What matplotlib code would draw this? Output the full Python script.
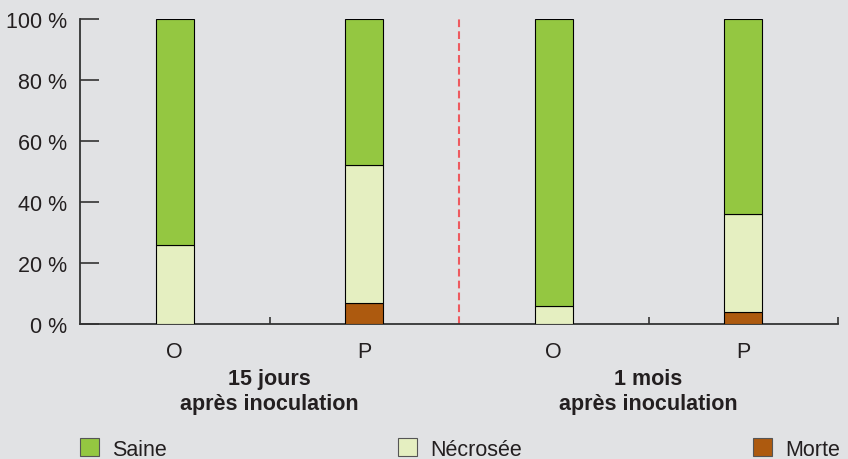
import matplotlib.pyplot as plt
from matplotlib.patches import Patch

plt.rcParams['font.family'] = ['Liberation Sans', 'DejaVu Sans']

# data (% of plants)
categories = ["O", "P", "O", "P"]
groups = ["15 jours\naprès inoculation", "1 mois\naprès inoculation"]
morte = [0, 7, 0, 4]
necrosee = [26, 45, 6, 32]
saine = [74, 48, 94, 64]
yticks = [0, 20, 40, 60, 80, 100]

bg = "#e1e2e4"
c_saine = "#94c741"
c_necro = "#e5efc1"
c_morte = "#ad5a0f"
ink = "#231f20"

fig = plt.figure(figsize=(8.48, 4.6), dpi=100, facecolor=bg)
ax = fig.add_axes([80 / 848, 1 - 325 / 460, 758 / 848, 305 / 460])
ax.set_facecolor(bg)

x = list(range(len(categories)))
w = 0.2
ax.bar(x, morte, w, color=c_morte, edgecolor="black", linewidth=0.8, zorder=3)
ax.bar(x, necrosee, w, bottom=morte, color=c_necro, edgecolor="black", linewidth=0.8, zorder=3)
bott = [m + n for m, n in zip(morte, necrosee)]
ax.bar(x, saine, w, bottom=bott, color=c_saine, edgecolor="black", linewidth=0.8, zorder=3)

# separation between the two dates
ax.axvline(1.5, color="#ee5a5f", lw=1.5, dashes=(3.7, 2), zorder=2)

ax.set_xlim(-0.5, 3.5)
ax.set_ylim(0, 100)
ax.set_yticks(yticks)
ax.set_yticklabels([f"{v} %" for v in yticks])
ax.set_xticks(x)
ax.set_xticklabels(categories)
ax.set_xticks([0.5, 1.5, 2.5, 3.5], minor=True)

ax.tick_params(axis="y", direction="in", length=14, width=1.2, color="#333333",
               labelsize=15.5, labelcolor=ink, pad=9)
ax.tick_params(axis="x", which="major", length=0, labelsize=15.5, labelcolor=ink, pad=12)
ax.tick_params(axis="x", which="minor", direction="in", length=5, width=1.2, color="#333333")

for s in ["top", "right"]:
    ax.spines[s].set_visible(False)
for s in ["left", "bottom"]:
    ax.spines[s].set_color("#333333")
    ax.spines[s].set_linewidth(1.3)

# group labels
for i, g in enumerate(groups):
    ax.text(2 * i + 0.5, -0.22, g, transform=ax.get_xaxis_transform(),
            ha="center", va="center", fontsize=15.5, fontweight="bold",
            color=ink, linespacing=1.3)

handles = [Patch(facecolor=c_saine, edgecolor="#555555", linewidth=0.8, label="Saine"),
           Patch(facecolor=c_necro, edgecolor="#555555", linewidth=0.8, label="Nécrosée"),
           Patch(facecolor=c_morte, edgecolor="#555555", linewidth=0.8, label="Morte")]
fig.legend(handles=handles, loc="center", ncol=3, mode="expand",
           bbox_to_anchor=(80 / 848, 1 - 450 / 460 - 0.02, 760 / 848, 0.04),
           frameon=False, fontsize=15.5, handlelength=0.9, handleheight=0.9,
           handletextpad=0.6, borderpad=0, borderaxespad=0, labelcolor=ink)

fig.savefig("out.png", dpi=100, facecolor=bg)
